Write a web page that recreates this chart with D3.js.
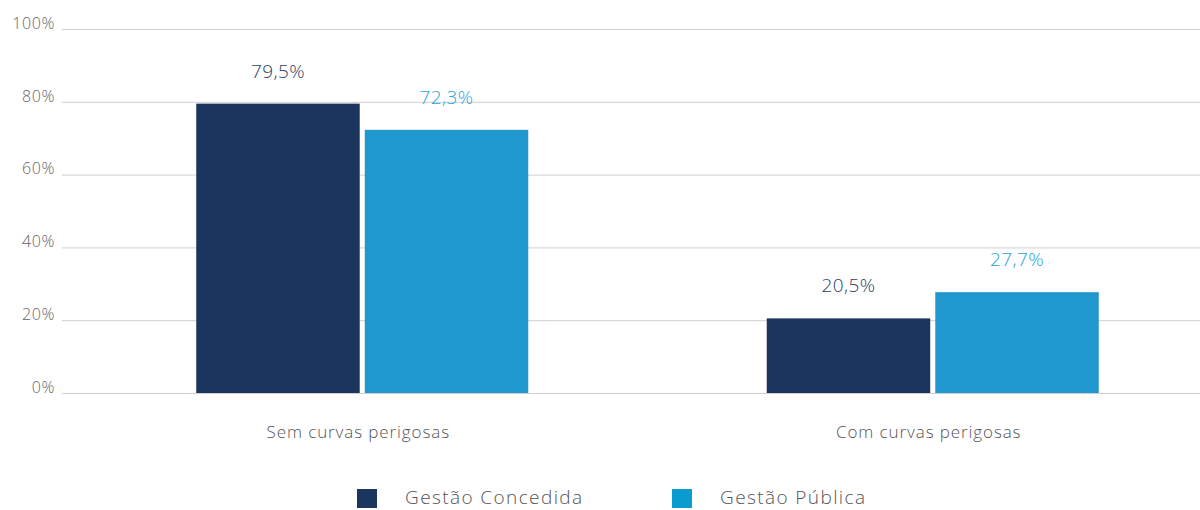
<!DOCTYPE html>
<html>
<head>
<meta charset="utf-8">
<script src="https://cdn.jsdelivr.net/npm/d3@7"></script>
<style>
  body { margin: 0; background: #fff; }
  svg text { font-family: "Open Sans", Lato, sans-serif; font-weight: 300; }
</style>
</head>
<body>
<div id="chart"></div>
<script>
(function () {
    'use strict';

    const categories = ['Sem curvas perigosas', 'Com curvas perigosas'];
    const seriesNames = ['Gestão Concedida', 'Gestão Pública'];
    const concedida = [79.5, 20.5];
    const publica = [72.3, 27.7];
    const yTicks = [0, 20, 40, 60, 80, 100];

    const barColors = ['#1a365f', '#2097cf'];
    const labelColors = ['#2b4068', '#2aa3d8'];
    const legendColors = ['#1a365f', '#0a9ccf'];

    const width = 1200;
    const height = 510;

    const svg = d3.select('#chart').append('svg')
        .attr('width', width)
        .attr('height', height);

    const yScale = d3.scaleLinear().domain([0, 100]).range([393, 29]);
    const xScale = d3.scaleBand().domain(categories).range([77, 1218]);
    const seriesScale = d3.scaleBand().domain(seriesNames)
        .range([-166, 166]).paddingInner(0.03);

    // grid + y labels
    const yAxis = d3.axisLeft(yScale).tickValues(yTicks)
        .tickSize(-(1200 - 62))
        .tickFormat(function (d) { return d + '%'; });

    const yG = svg.append('g').attr('transform', 'translate(62,0)').call(yAxis);
    yG.select('.domain').remove();
    yG.selectAll('.tick line').attr('stroke', '#cfcfcf').attr('stroke-width', 1);
    yG.selectAll('.tick text').attr('x', -7).attr('dy', '-0.05em')
        .style('font-size', '16px').style('letter-spacing', '0.6px').style('fill', '#666');

    const rows = categories.map(function (c, i) {
        return { cat: c, values: [concedida[i], publica[i]] };
    });

    const groups = svg.selectAll('.group').data(rows).enter().append('g')
        .attr('class', 'group')
        .attr('transform', function (d) {
            return 'translate(' + (xScale(d.cat) + xScale.bandwidth() / 2) + ',0)';
        });

    groups.selectAll('rect').data(function (d) {
        return d.values.map(function (v, j) { return { series: seriesNames[j], value: v, j: j }; });
    }).enter().append('rect')
        .attr('x', function (d) { return seriesScale(d.series); })
        .attr('width', seriesScale.bandwidth())
        .attr('y', function (d) { return yScale(d.value); })
        .attr('height', function (d) { return yScale(0) - yScale(d.value); })
        .style('fill', function (d) { return barColors[d.j]; });

    groups.selectAll('.val').data(function (d) {
        return d.values.map(function (v, j) { return { series: seriesNames[j], value: v, j: j }; });
    }).enter().append('text')
        .attr('class', 'val')
        .attr('x', function (d) { return seriesScale(d.series) + seriesScale.bandwidth() / 2; })
        .attr('y', function (d) { return yScale(d.value) - 26; })
        .attr('text-anchor', 'middle')
        .style('font-size', '19px')
        .style('letter-spacing', '0.4px')
        .style('fill', function (d) { return labelColors[d.j]; })
        .text(function (d) { return d3.format('.1f')(d.value).replace('.', ',') + '%'; });

    groups.append('text')
        .attr('x', -4)
        .attr('y', 438)
        .attr('text-anchor', 'middle')
        .style('font-size', '17px')
        .style('letter-spacing', '0.9px')
        .style('fill', '#555')
        .text(function (d) { return d.cat; });

    // legend
    const legendX = [357, 672];
    const legend = svg.selectAll('.legend').data(seriesNames).enter().append('g')
        .attr('class', 'legend')
        .attr('transform', function (d, i) { return 'translate(' + legendX[i] + ',489)'; });

    legend.append('rect').attr('width', 20).attr('height', 19)
        .style('fill', function (d, i) { return legendColors[i]; });
    legend.append('text').attr('x', 48).attr('y', 15)
        .style('font-size', '19px').style('letter-spacing', '1.4px').style('fill', '#555')
        .text(function (d) { return d; });
}());
</script>
</body>
</html>
